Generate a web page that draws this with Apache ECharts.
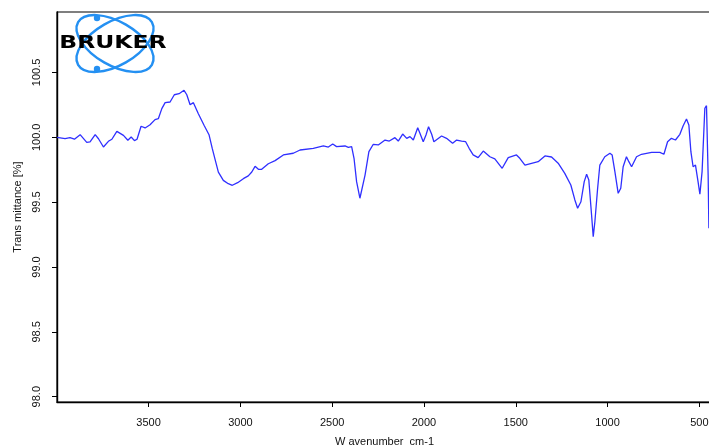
<!DOCTYPE html>
<html>
<head>
<meta charset="utf-8">
<script src="https://cdn.jsdelivr.net/npm/echarts@6/dist/echarts.min.js"></script>
<style>
  html, body { margin: 0; padding: 0; background: #fff; }
  #chart { width: 709px; height: 446px; }
</style>
</head>
<body>
<div id="chart"></div>
<script>
const wavenumbers = [
  3999, 3955, 3928, 3904, 3873, 3837, 3819, 3791, 3773, 3746,
  3719, 3700, 3673, 3637, 3613, 3595, 3577, 3563, 3541, 3519,
  3492, 3465, 3447, 3428, 3410, 3383, 3360, 3334, 3307, 3292,
  3274, 3256, 3229, 3198, 3171, 3153, 3138, 3120, 3093, 3066,
  3044, 3015, 2984, 2957, 2938, 2920, 2902, 2884, 2848, 2811,
  2766, 2712, 2675, 2603, 2548, 2521, 2497, 2476, 2430, 2412,
  2394, 2381, 2367, 2349, 2339, 2321, 2300, 2276, 2249, 2212,
  2189, 2158, 2140, 2116, 2094, 2076, 2058, 2034, 2022, 2004,
  1989, 1975, 1958, 1946, 1904, 1877, 1844, 1822, 1795, 1773,
  1754, 1732, 1705, 1677, 1641, 1614, 1574, 1541, 1496, 1478,
  1450, 1414, 1378, 1341, 1305, 1269, 1233, 1200, 1178, 1163,
  1145, 1127, 1114, 1102, 1087, 1078, 1069, 1054, 1042, 1015,
  987, 975, 960, 942, 928, 915, 897, 884, 869, 842,
  815, 760, 715, 693, 673, 652, 630, 606, 588, 570,
  557, 546, 534, 521, 507, 497, 485, 470, 461, 452,
  448
];

// transmittance (%)
const transmittance = [
  100.000, 99.989, 99.997, 99.985, 100.020, 99.961, 99.964, 100.020, 99.989, 99.925,
  99.969, 99.985, 100.046, 100.015, 99.977, 100.002, 99.974, 99.985, 100.085, 100.072,
  100.097, 100.136, 100.143, 100.221, 100.267, 100.272, 100.328, 100.336, 100.362, 100.328,
  100.251, 100.267, 100.182, 100.093, 100.020, 99.912, 99.830, 99.732, 99.668, 99.642,
  99.630, 99.650, 99.681, 99.702, 99.732, 99.776, 99.753, 99.753, 99.796, 99.820,
  99.864, 99.877, 99.902, 99.915, 99.933, 99.925, 99.948, 99.928, 99.933, 99.923,
  99.928, 99.838, 99.658, 99.530, 99.542, 99.709, 99.889, 99.946, 99.941, 99.979,
  99.971, 99.997, 99.971, 100.025, 99.992, 100.005, 99.979, 100.074, 100.031, 99.966,
  100.018, 100.082, 100.023, 99.966, 100.010, 99.992, 99.954, 99.979, 99.971, 99.966,
  99.915, 99.864, 99.843, 99.894, 99.850, 99.833, 99.761, 99.843, 99.864, 99.838,
  99.786, 99.799, 99.812, 99.856, 99.848, 99.800, 99.722, 99.632, 99.517, 99.453,
  99.503, 99.658, 99.715, 99.671, 99.401, 99.234, 99.349, 99.607, 99.786, 99.850,
  99.877, 99.864, 99.735, 99.568, 99.607, 99.773, 99.850, 99.812, 99.773, 99.850,
  99.869, 99.884, 99.884, 99.869, 99.966, 99.992, 99.979, 100.023, 100.089, 100.141,
  100.095, 99.889, 99.773, 99.786, 99.658, 99.561, 99.735, 100.224, 100.244, 99.709,
  99.298
];

const xTicks = [500, 1000, 1500, 2000, 2500, 3000, 3500];
const yTicks = [98.0, 98.5, 99.0, 99.5, 100.0, 100.5];

const chart = echarts.init(document.getElementById('chart'));

const points = wavenumbers.map((w, i) => [w, transmittance[i]]);

const labelFont = {
  color: '#111',
  fontFamily: 'Liberation Sans, Arial, sans-serif',
  fontSize: 11,
};

const option = {
  animation: false,
  grid: {
    left: 57,
    top: 12,
    right: -3,
    bottom: 44,
    outerBoundsMode: 'none',
    containLabel: false,
    show: true,
    borderColor: '#000',
    borderWidth: 1.2,
  },
  xAxis: {
    type: 'value',
    inverse: true,
    min: 431,
    max: 3999,
    name: 'W avenumber  cm-1',
    nameLocation: 'middle',
    nameGap: 34,
    nameTextStyle: labelFont,
    axisLine: { show: true, onZero: false, lineStyle: { color: '#000', width: 1.4 } },
    axisTick: { show: true, length: 5, customValues: xTicks, lineStyle: { color: '#000' } },
    axisLabel: { margin: 15, customValues: xTicks, formatter: (v) => String(v), ...labelFont },
    splitLine: { show: false },
  },
  yAxis: {
    type: 'value',
    min: 97.959,
    max: 100.966,
    name: 'Trans mittance [%]',
    nameLocation: 'middle',
    nameGap: 31,
    nameTextStyle: labelFont,
    axisLine: { show: true, onZero: false, lineStyle: { color: '#000', width: 1.4 } },
    axisTick: { show: true, length: 5, customValues: yTicks, lineStyle: { color: '#000' } },
    axisLabel: {
      rotate: 90,
      margin: 15,
      customValues: yTicks,
      formatter: (v) => v.toFixed(1),
      ...labelFont,
    },
    splitLine: { show: false },
  },
  graphic: [
    {
      type: 'ellipse',
      x: 115, y: 43.5,
      rotation: Math.PI / 6,
      shape: { cx: 0, cy: 0, rx: 42.6, ry: 21.8 },
      style: { fill: 'none', stroke: '#2490f2', lineWidth: 2.4 },
    },
    {
      type: 'ellipse',
      x: 115, y: 43.5,
      rotation: -Math.PI / 6,
      shape: { cx: 0, cy: 0, rx: 42.6, ry: 21.8 },
      style: { fill: 'none', stroke: '#2490f2', lineWidth: 2.4 },
    },
    { type: 'circle', shape: { cx: 97, cy: 18, r: 3.2 }, style: { fill: '#2490f2' } },
    { type: 'circle', shape: { cx: 97, cy: 69, r: 3.2 }, style: { fill: '#2490f2' } },
    {
      type: 'text',
      x: 113, y: 44,
      scaleX: 1.38,
      style: {
        text: 'BRUKER',
        fill: '#000',
        font: 'bold 17px "DejaVu Sans", Arial, sans-serif',
        textAlign: 'center',
        textVerticalAlign: 'middle',
      },
    },
  ],
  series: [
    {
      type: 'line',
      data: points,
      showSymbol: false,
      lineStyle: { color: '#2f2fff', width: 1.3 },
      clip: true,
    },
  ],
};

chart.setOption(option);
</script>
</body>
</html>
